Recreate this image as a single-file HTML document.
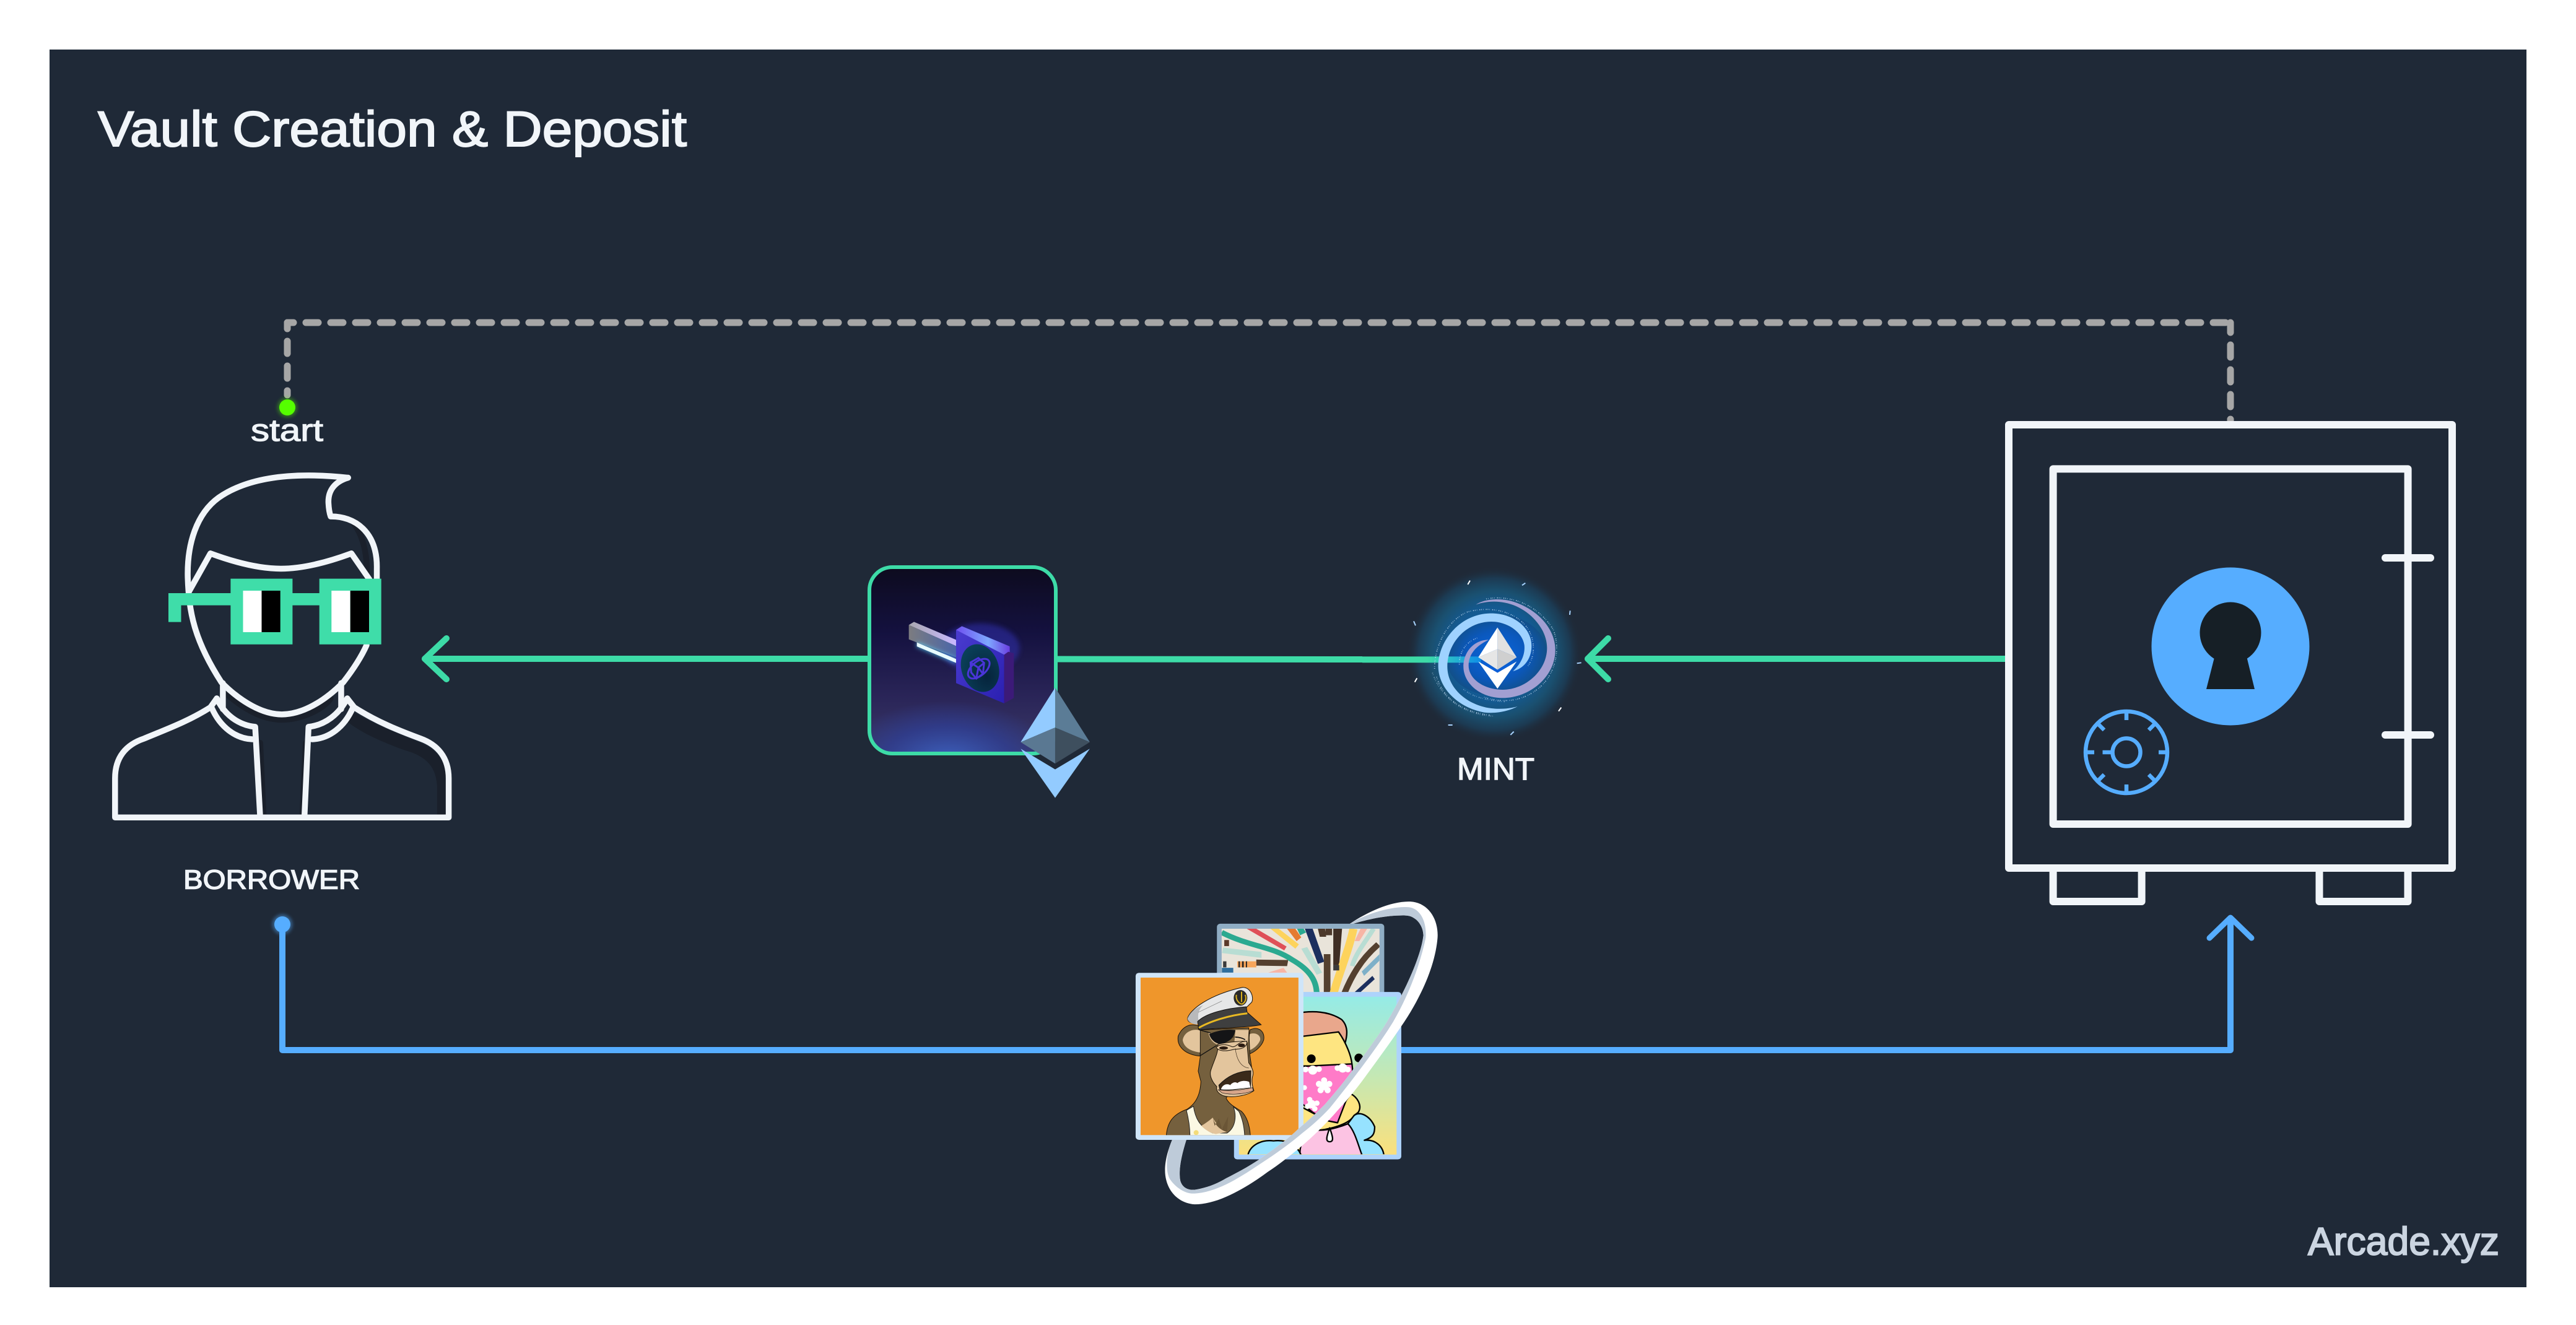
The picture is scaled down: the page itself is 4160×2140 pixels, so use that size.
<!DOCTYPE html>
<html><head><meta charset="utf-8"><style>
html,body{margin:0;padding:0;background:#fff}
svg{display:block}
text{font-family:"Liberation Sans",sans-serif;fill:#F1F5F9}
.p{fill:none;stroke:#F1F5F9;stroke-width:9.5;stroke-linejoin:round;stroke-linecap:round;vector-effect:non-scaling-stroke}
.s{fill:none;stroke:#F1F5F9;stroke-width:12;stroke-linejoin:round;stroke-linecap:round}
</style></head><body>
<svg width="4160" height="2140" viewBox="0 0 4160 2140" xmlns="http://www.w3.org/2000/svg">
<defs>
<linearGradient id="kb" x1="0" y1="0" x2="0" y2="1"><stop offset="0" stop-color="#0d0b1e"/><stop offset=".35" stop-color="#14113f"/><stop offset=".7" stop-color="#2a2558"/><stop offset="1" stop-color="#3b3a68"/></linearGradient>
<radialGradient id="kg" cx=".5" cy=".5" r=".5"><stop offset="0" stop-color="#3f68c8" stop-opacity=".95"/><stop offset=".6" stop-color="#2e3f98" stop-opacity=".7"/><stop offset="1" stop-color="#2e3f98" stop-opacity="0"/></radialGradient>
<radialGradient id="mg" cx=".5" cy=".5" r=".5"><stop offset="0" stop-color="#0c63b8"/><stop offset=".55" stop-color="#14598f"/><stop offset=".72" stop-color="#1a5070"/><stop offset=".87" stop-color="#1c3a52"/><stop offset="1" stop-color="#1F2937" stop-opacity="0"/></radialGradient>
<radialGradient id="md" cx=".5" cy=".5" r=".5"><stop offset="0" stop-color="#0a66e0"/><stop offset=".6" stop-color="#0b58bc"/><stop offset="1" stop-color="#125089"/></radialGradient>
<linearGradient id="ml" x1="0" y1="0" x2="1" y2="0"><stop offset="0" stop-color="#3DDBA7"/><stop offset=".55" stop-color="#3DDBA7"/><stop offset=".72" stop-color="#2bbfc8"/><stop offset="1" stop-color="#0f8de8"/></linearGradient>
<linearGradient id="rc" x1="0" y1="0" x2="0" y2="1"><stop offset="0" stop-color="#95EBE6"/><stop offset=".5" stop-color="#C4E8B4"/><stop offset="1" stop-color="#FBE07C"/></linearGradient>
<linearGradient id="kf" x1="0" y1="0" x2="1" y2="1"><stop offset="0" stop-color="#4a3cd0"/><stop offset="1" stop-color="#2a1fb0"/></linearGradient>
<linearGradient id="kt" x1="0" y1="0" x2="1" y2="0"><stop offset="0" stop-color="#6f50f0"/><stop offset=".6" stop-color="#7ea8ff"/><stop offset="1" stop-color="#6a3ee0"/></linearGradient>
<linearGradient id="kbar" x1="0" y1="0" x2="1" y2="0"><stop offset="0" stop-color="#7c7c80"/><stop offset="1" stop-color="#4a66a8"/></linearGradient>
<linearGradient id="kbart" x1="0" y1="0" x2="1" y2="0"><stop offset="0" stop-color="#a9a8b0"/><stop offset="1" stop-color="#c8b8ff"/></linearGradient>
<radialGradient id="kc" cx=".6" cy=".7" r=".7"><stop offset="0" stop-color="#06233c"/><stop offset="1" stop-color="#0a4058"/></radialGradient>
<filter id="b12" x="-80%" y="-200%" width="260%" height="500%"><feGaussianBlur stdDeviation="12"/></filter>
<filter id="b3" x="-50%" y="-50%" width="200%" height="200%"><feGaussianBlur stdDeviation="3"/></filter>
<clipPath id="kclip"><rect x="1404" y="916" width="301" height="301" rx="37"/></clipPath>
<clipPath id="c1"><rect x="504" y="228" width="666" height="300"/></clipPath>
<clipPath id="c2"><rect x="62" y="-200" width="765" height="843"/></clipPath>
<clipPath id="c3"><rect x="-200" y="57" width="900" height="763"/></clipPath>
</defs>

<rect x="80" y="80" width="4000" height="1999" fill="#1F2937"/>

<text x="158" y="236" font-size="81" textLength="951" lengthAdjust="spacingAndGlyphs" stroke="#F1F5F9" stroke-width="2">Vault Creation &amp; Deposit</text>

<!-- dashed -->
<g fill="none" stroke="#A6A6A6" stroke-width="11" stroke-linecap="round" stroke-dasharray="20 20">
<path stroke-dashoffset="10" d="M464,521 V638"/>
<path stroke-dashoffset="10" d="M464,521 H3602"/>
<path stroke-dashoffset="4" d="M3602,521 V684"/>
</g>
<circle cx="464" cy="658" r="16" fill="#55FF00" opacity=".35" filter="url(#b3)"/>
<circle cx="464" cy="658" r="13" fill="#55FF00"/>
<text x="405" y="712" font-size="50" textLength="117" lengthAdjust="spacingAndGlyphs" stroke="#F1F5F9" stroke-width="1.2">start</text>

<!-- green connectors -->
<g fill="none" stroke="#3DDBA7" stroke-width="10" stroke-linecap="round" stroke-linejoin="round">
<path d="M1402,1064 H686"/>
<path d="M721,1031 L686,1064 L721,1097"/>
<path d="M3240,1064 H2564"/>
<path d="M2597,1031 L2564,1064 L2597,1097"/>
</g>
<line x1="1706" y1="1064.5" x2="2200" y2="1065" stroke="#3DDBA7" stroke-width="10"/>

<!-- person -->
<g transform="translate(130,620) scale(.4464,.574)">
<g fill="#1a202b">
<path d="M965,950 L990,925 C1070,960 1150,985 1230,1010 C1290,1030 1322,1060 1322,1110 V1212 H1290 V1130 C1285,1070 1240,1045 1170,1030 C1100,1010 1020,985 965,950 Z"/>
</g>
<path class="p" style="stroke:#1a202b" d="M525,870 C590,915 660,945 728,945 C800,945 880,915 905,885 M990,395 C1025,430 1040,490 1035,548 M650,1010 L662,1210 M815,1010 L803,1210"/>
<path class="p" d="M968,264 C800,250 620,255 500,320 C420,365 385,450 388,545 C392,640 410,720 510,840 C580,895 660,930 728,930 C800,930 880,895 950,840 C985,805 1015,770 1035,735"/>
<path class="p" d="M968,264 C920,275 895,300 897,335 C898,350 900,362 905,373 C990,372 1075,415 1072,520 L1072,548"/>
<path class="p" d="M392,585 L470,477 C550,500 640,520 725,520 C810,520 900,500 980,477 L1045,550"/>
<path class="p" d="M515,842 V915 M943,842 V915"/>
<path class="p" d="M493,885 C520,930 570,960 632,965 L650,1220"/>
<path class="p" d="M965,885 C935,930 885,960 825,965 L810,1220"/>
<path class="p" d="M475,912 C505,965 560,998 622,1000"/>
<path class="p" d="M985,912 C955,965 900,998 838,1000"/>
<path class="p" d="M493,885 L470,910 C390,950 300,975 230,998 C165,1015 125,1050 125,1110 V1220 H1332 V1110 C1332,1050 1290,1015 1230,998 C1150,975 1070,950 990,910 L965,885"/>
</g>
<!-- glasses -->
<g>
<path fill="#3FDDA9" d="M372.4,934.6 H472.4 V958 H515.7 V934.6 H615.7 V1040.8 H515.7 V977.6 H472.4 V1040.8 H372.4 V977.6 H292.5 V1004.6 H272 V958 H372.4 Z"/>
<rect x="392.5" y="954" width="30" height="67" fill="#fff"/><rect x="422.5" y="954" width="30.2" height="67" fill="#000"/>
<rect x="535.3" y="954" width="30.4" height="67" fill="#fff"/><rect x="565.7" y="954" width="30.3" height="67" fill="#000"/>
</g>
<text x="296" y="1435.5" font-size="44" textLength="285" lengthAdjust="spacingAndGlyphs" stroke="#F1F5F9" stroke-width="1.4">BORROWER</text>

<!-- key box -->
<g>
<g clip-path="url(#kclip)">
<rect x="1404" y="916" width="301" height="301" fill="url(#kb)"/>
<ellipse cx="1530" cy="1232" rx="175" ry="100" fill="url(#kg)"/>
</g>
<rect x="1404" y="916" width="301" height="301" rx="37" fill="none" stroke="#3DDBA7" stroke-width="6"/>
<g transform="translate(1350,880) scale(.3333)">
<ellipse cx="700" cy="500" rx="190" ry="120" fill="#3a3ad8" opacity=".4" filter="url(#b12)"/>
<polygon points="353,388 378,373 582,460 582,490" fill="url(#kbart)"/>
<polygon points="353,388 582,490 582,545 353,458" fill="url(#kbar)"/>
<polygon points="392,473 582,553 582,572 392,492" fill="#5fd8ff" filter="url(#b12)"/>
<polygon points="392,473 582,553 582,572 392,492" fill="#e8fbff"/>
<polygon points="582,412 815,530 815,768 582,670" fill="url(#kf)"/>
<polygon points="582,412 610,394 842,492 842,520 815,532" fill="url(#kt)"/>
<polygon points="815,532 835,518 862,525 862,742 815,768" fill="#3c1a78"/>
<ellipse cx="698" cy="597" rx="90" ry="118" transform="rotate(-18 698 597)" fill="url(#kc)"/>
<g fill="none" stroke="#4a35d8" stroke-width="9"><ellipse cx="692" cy="600" rx="62" ry="34" transform="rotate(-40 692 600)"/><path d="M652,570 L690,548 L718,572 L712,625 L680,648 L655,618 Z M652,570 L690,595 L712,625 M690,595 L680,648 M690,595 L718,572"/></g>
</g>
<!-- eth -->
<g transform="translate(1350,880) scale(.3333)">
<polygon points="1062,692 895,956 1062,885" fill="#93CBFF"/>
<polygon points="1062,692 1230,956 1062,885" fill="#5B7C96"/>
<polygon points="895,956 1062,885 1062,1060" fill="#5A7892"/>
<polygon points="1230,956 1062,885 1062,1060" fill="#3E4F5E"/>
<polygon points="895,988 1062,1088 1230,988 1062,1226" fill="#93CBFF"/>
</g>
</g>

<!-- mint -->
<g transform="translate(2200,880) scale(.3333)">
<circle cx="640" cy="530" r="425" fill="url(#mg)"/>
<ellipse cx="650" cy="535" rx="245" ry="195" transform="rotate(-5 650 535)" fill="url(#md)"/>
<rect x="0" y="541" width="575" height="30" fill="url(#ml)"/>
<g fill="none" stroke="#d3e8ff" stroke-width="5" stroke-dasharray="3 6 2 11 4 5">
<path d="M350,600 C350,480 420,360 510,325 C600,300 720,310 790,390 C840,450 840,540 800,590" opacity=".75"/>
<path d="M360,640 C390,740 480,810 620,825" opacity=".75"/>
<path d="M600,262 C720,240 850,290 925,410 C960,500 940,620 860,690 C780,760 680,770 580,735" opacity=".75"/>
<path d="M470,580 C470,520 500,470 560,450" opacity=".7"/>
<path d="M340,620 C380,740 490,825 640,830 M490,700 C540,740 610,755 690,760" opacity=".55"/>
</g>
<path fill="#9FD2FF" d="M752,783 C700,810 640,818 590,812 C470,790 370,700 368,590 C366,470 470,335 620,332 C730,330 820,400 820,490 C820,555 780,600 730,612 C770,575 790,530 785,485 C775,420 700,372 625,372 C510,372 412,470 412,590 C412,690 500,770 610,790 C660,798 710,795 752,783 Z"/>
<path fill="#A29FD2" d="M550,290 C590,262 660,258 720,272 C840,305 935,400 935,510 C935,640 810,742 680,742 C570,742 490,670 490,590 C490,520 540,460 612,460 C550,490 515,530 515,585 C515,650 590,702 680,702 C790,702 895,610 895,500 C895,400 800,300 690,280 C640,270 590,275 550,290 Z"/>
<polygon points="562,560 655,605 748,560 655,620" fill="#0c5fd8"/>
<polygon points="655,400 562,545 655,505" fill="#fff"/>
<polygon points="655,400 748,545 655,505" fill="#e1e1e1"/>
<polygon points="562,545 655,505 655,605" fill="#e6e6e6"/>
<polygon points="748,545 655,505 655,605" fill="#cfcfcf"/>
<polygon points="562,565 655,620 748,565 655,697" fill="#fff"/>
<g stroke-width="6" stroke-linecap="butt">
<line x1="522" y1="173" x2="511" y2="192" stroke="#fff"/>
<line x1="790" y1="185" x2="774" y2="196" stroke="#a8d4ff"/>
<line x1="1007" y1="319" x2="1005" y2="339" stroke="#a8d4ff"/>
<line x1="249" y1="370" x2="258" y2="391" stroke="#a8d4ff"/>
<line x1="265" y1="646" x2="254" y2="665" stroke="#fff"/>
<line x1="1040" y1="574" x2="1061" y2="571" stroke="#a8d4ff"/>
<line x1="964" y1="788" x2="951" y2="806" stroke="#fff"/>
<line x1="416" y1="873" x2="437" y2="873" stroke="#a8d4ff"/>
<line x1="734" y1="905" x2="718" y2="921" stroke="#a8d4ff"/>
</g>
</g>
<text x="2353" y="1259" font-size="50" textLength="125" lengthAdjust="spacingAndGlyphs" stroke="#F1F5F9" stroke-width="1.4">MINT</text>

<!-- safe -->
<g>
<rect x="3244" y="686" width="716" height="716" class="s"/>
<rect x="3315.6" y="757.4" width="573" height="573.6" class="s"/>
<path class="s" d="M3315.6,1408 V1456 H3458.6 V1408 M3745.5,1408 V1456 H3888.5 V1408"/>
<path class="s" d="M3852,901 H3925 M3852,1187 H3925"/>
<circle cx="3602" cy="1044" r="127.5" fill="#56ADFF"/>
<circle cx="3602" cy="1022" r="49.5" fill="#161F26"/>
<polygon points="3577,1058 3563,1113 3641,1113 3627.5,1058" fill="#161F26"/>
<g fill="none" stroke="#56ADFF" stroke-width="6.5">
<circle cx="3434" cy="1215" r="66"/>
<circle cx="3434" cy="1215" r="22.5"/>
<path d="M3434,1149 V1163 M3434,1281 V1267 M3368,1215 H3382 M3500,1215 H3486 M3395.5,1215 H3412 M3387,1168 L3398,1179 M3481,1168 L3470,1179 M3387,1262 L3398,1251 M3481,1262 L3470,1251"/>
</g>
</g>

<!-- blue connector -->
<circle cx="456" cy="1493" r="16" fill="#56ADFF" opacity=".45" filter="url(#b3)"/>
<g fill="none" stroke="#56ADFF" stroke-width="10" stroke-linejoin="round">
<path d="M456,1493 V1696 H3602 V1482"/>
<path stroke-linecap="round" stroke-width="9" d="M3568,1515 L3602,1482 L3636,1515"/>
</g>
<circle cx="456" cy="1493" r="13" fill="#56ADFF"/>

<!-- NFTs: top card -->
<g transform="translate(1780,1420) scale(.3827,.3508)">
<rect x="484" y="205" width="706" height="340" rx="14" fill="#8FADC4"/>
<rect x="504" y="228" width="666" height="300" fill="#E9E4DA"/>
<g clip-path="url(#c1)">
<polygon points="510,315 672,335 672,362 505,340" fill="#B8DDD3"/>
<polygon points="610,228 650,228 778,310 768,328" fill="#DF5058"/>
<polygon points="710,228 745,228 830,300 815,320" fill="#FDD35C"/>
<polygon points="780,228 815,228 840,268 820,285" fill="#E57A31"/>
<polygon points="822,228 850,228 860,245 835,258" fill="#2BA990"/>
<polygon points="855,228 888,228 937,380 910,390" fill="#1C2F5E"/>
<polygon points="840,320 865,312 928,430 905,440" fill="#B8DDD3"/>
<polygon points="910,228 940,228 945,265 918,265" fill="#4D3A2C"/>
<polygon points="942,228 970,228 970,258 942,258" fill="#4D3A2C"/>
<polygon points="975,228 1012,228 1000,395 975,395" fill="#3f2e24"/>
<polygon points="1090,228 1118,228 1085,285 1065,285" fill="#F7B5A5"/>
<polygon points="1170,345 1170,375 1105,445 1095,425" fill="#7EB0C8"/>
<polygon points="1140,445 1150,460 1080,530 1065,520" fill="#1C2F5E"/>
<polygon points="650,370 785,372 780,400 650,398" fill="#54402F"/>
<rect x="570" y="378" width="80" height="28" fill="#F7A55A"/>
<g fill="#222"><rect x="575" y="378" width="6" height="28"/><rect x="590" y="378" width="7" height="28"/><rect x="606" y="378" width="5" height="28"/></g>
<rect x="510" y="378" width="14" height="28" fill="#3a3a3a"/>
<rect x="505" y="408" width="48" height="22" fill="#2E6E9E"/>
<polygon points="700,430 765,408 780,430" fill="#F7B5A5"/>
<rect x="515" y="280" width="20" height="28" fill="#5a3a2a"/>
<rect x="935" y="345" width="28" height="190" fill="#54402F"/>
<path d="M1060,228 C1040,330 1000,430 975,530" stroke="#FDD35C" stroke-width="34" fill="none"/>
<path d="M1165,300 C1090,370 1050,450 1020,530" stroke="#54402F" stroke-width="26" fill="none"/>
<path d="M1145,228 C1110,290 1070,340 1055,400" stroke="#B8DDD3" stroke-width="20" fill="none"/>
<path d="M504,245 C620,310 720,310 800,370 C880,420 905,470 905,530" stroke="#2BA990" stroke-width="24" fill="none"/>
<rect x="975" y="395" width="25" height="25" fill="#3a3a3a"/>
</g>
<rect x="556" y="519" width="706" height="771" rx="14" fill="#ADD3FB"/>
<rect x="577" y="541" width="665" height="727" fill="url(#rc)"/>
</g>
<!-- right card art -->
<g transform="translate(1980,1650) scale(.3333)">
<g clip-path="url(#c2)" stroke="#000" stroke-width="7" stroke-linejoin="round">
<path d="M340,-40 C420,-55 500,-50 560,-10 C590,20 590,60 575,110 L525,60 L340,75 Z" fill="#E9A78C"/>
<path d="M340,75 L545,50 C580,100 610,170 610,215 L340,215 Z" fill="#FEE581"/>
<path d="M605,350 C640,370 660,410 640,440 L620,455 C600,490 540,510 490,520 C450,530 430,525 420,520 L340,500 L340,400 L490,480 L540,490 C530,440 570,400 605,350 Z" fill="#FEE581"/>
<path d="M340,218 L610,205 C620,280 610,330 590,360 L540,490 L490,480 L420,440 C395,420 375,400 340,380 Z" fill="#FF7BC8"/>
<path d="M620,455 C650,430 700,460 720,510 C720,540 715,560 670,575 C720,570 760,600 765,650 L655,650 C640,600 620,530 590,495 Z" fill="#96E2FF"/>
<path d="M430,525 C480,530 540,515 590,495 C625,530 640,600 660,650 L360,650 C350,600 380,560 430,525 Z" fill="#FCC3E3"/>
<path d="M105,650 C115,600 170,570 230,578 C300,570 345,600 365,650 Z" fill="#96E2FF"/>
<path d="M502,515 C490,550 478,582 502,582 C526,582 514,550 502,515 Z" fill="#fff"/>
</g>
<g clip-path="url(#c2)">
<circle cx="413" cy="180" r="21"/><circle cx="643" cy="176" r="21"/>
<g fill="#fff">
<circle cx="475" cy="310" r="22"/><circle cx="475" cy="285" r="15"/><circle cx="500" cy="302" r="15"/><circle cx="492" cy="332" r="15"/><circle cx="458" cy="332" r="15"/><circle cx="450" cy="302" r="15"/>
<circle cx="415" cy="400" r="20"/><circle cx="405" cy="378" r="13"/><circle cx="440" cy="395" r="13"/><circle cx="430" cy="422" r="13"/><circle cx="395" cy="410" r="13"/>
<circle cx="420" cy="235" r="22"/><circle cx="385" cy="232" r="14"/><circle cx="450" cy="230" r="14"/>
<circle cx="565" cy="225" r="22"/><circle cx="540" cy="225" r="14"/><circle cx="590" cy="232" r="14"/>
<circle cx="380" cy="320" r="12"/>
</g>
</g>
</g>
<!-- left card -->
<g transform="translate(1780,1420) scale(.3827,.3508)">
<rect x="141" y="431" width="708" height="769" rx="14" fill="#CFE5F9"/>
<rect x="162" y="453" width="666" height="725" fill="#EF962B"/>
</g>
<!-- ape -->
<g transform="translate(1880,1560) scale(.3333)">
<g clip-path="url(#c3)">
<path d="M165,290 C120,275 85,300 68,340 C60,390 100,430 175,437 Z" fill="#75603E" stroke="#1a1208" stroke-width="3"/>
<path d="M165,310 C130,305 95,325 90,360 C95,395 130,415 178,420 L175,310 Z" fill="#E3C59D"/>
<path d="M415,310 C460,290 490,320 482,360 C470,395 435,420 405,430 Z" fill="#75603E" stroke="#1a1208" stroke-width="3"/>
<path d="M415,330 C440,320 470,335 465,360 C455,385 430,405 405,412 Z" fill="#E3C59D"/>
<path d="M10,825 C15,760 40,720 110,695 C150,670 175,630 178,560 L165,510 L175,440 L175,310 L410,300 L415,430 L425,500 L300,640 C310,665 335,680 375,705 C405,735 415,780 418,825 Z" fill="#75603E" stroke="#1a1208" stroke-width="3"/>
<path d="M345,310 L410,310 L405,370 L340,375 Z" fill="#E3C59D"/>
<path d="M215,320 C215,350 240,380 265,382 L240,340 Z" fill="#E3C59D"/>
<path d="M260,380 C300,370 360,365 400,365 L410,470 C425,490 435,510 430,530 C420,560 430,590 435,605 C400,630 330,640 290,630 C260,620 250,600 255,585 C230,560 220,530 225,510 C240,460 265,420 260,380 Z" fill="#E3C59D" stroke="#1a1208" stroke-width="3"/>
<path d="M252,395 C270,378 300,378 330,392 C350,395 360,365 400,365 C405,385 385,400 365,402 L335,405 C300,415 265,415 252,395 Z" fill="#E3C59D" stroke="#1a1208" stroke-width="3"/>
<ellipse cx="288" cy="398" rx="21" ry="8" fill="#2a1a10"/><ellipse cx="375" cy="385" rx="17" ry="9" fill="#2a1a10"/>
<path d="M345,400 C350,450 370,490 410,495 M265,345 L345,345" fill="none" stroke="#3a2a1a" stroke-width="2"/>
<path d="M265,578 C300,540 350,510 420,508 L418,590 C370,595 310,605 270,600 Z" fill="#3a2a1a" stroke="#111" stroke-width="3"/>
<path d="M275,598 C285,570 310,570 320,578 C330,565 345,560 355,568 C370,555 395,555 412,562 L418,590 C380,592 320,603 275,598 Z" fill="#fff"/>
<path d="M262,600 C320,610 380,600 428,590 L432,605 C380,625 310,625 280,615 Z" fill="#D9A68A" stroke="#111" stroke-width="2"/>
<path d="M218,330 C260,312 310,305 345,312 C340,345 320,370 270,378 C245,375 225,355 218,330 Z" fill="#141416"/>
<path d="M345,345 C365,345 385,352 392,358" fill="none" stroke="#111" stroke-width="5"/>
<path d="M170,310 L225,325 M175,435 L255,385" fill="none" stroke="#111" stroke-width="4"/>
<path d="M108,700 L142,680 C150,735 170,780 235,810 L305,810 C350,780 350,720 335,682 L362,705 C380,740 388,780 390,825 L125,825 C125,780 118,740 108,700 Z" fill="#FBF8E3" stroke="#222" stroke-width="3"/>
<path d="M180,775 C205,760 225,745 235,735 C250,765 280,790 305,805 L250,815 C220,810 195,790 180,775 Z" fill="#E3C59D"/>
<path d="M235,735 L245,775 L265,740 L280,790 L310,730 L305,805 C270,795 245,770 235,735 Z" fill="#6a5536"/>
<circle cx="155" cy="808" r="12" fill="#F3DC7A"/>
<path d="M113,255 C125,210 220,140 380,104 C420,105 435,150 425,175 L400,200 L165,265 C140,285 115,275 113,255 Z" fill="#E6E7E8" stroke="#111" stroke-width="3"/>
<path d="M113,255 C130,220 150,205 190,190 C160,215 165,245 165,265 L160,285 C130,280 115,270 113,255 Z" fill="#B8B9BB"/>
<path d="M162,270 C200,230 300,205 398,198 L402,225 L470,285 C400,300 260,300 170,310 Z" fill="#3F3F3F" stroke="#111" stroke-width="3"/>
<path d="M168,300 C220,270 310,240 403,230" fill="none" stroke="#E8B923" stroke-width="9"/>
<ellipse cx="370" cy="155" rx="33" ry="38" fill="#2a2a2a"/>
<path d="M350,140 C345,165 365,185 378,185 C395,175 400,155 392,140 M375,125 V175" fill="none" stroke="#D9B01E" stroke-width="6"/>
<path d="M165,225 L280,170" fill="none" stroke="#777" stroke-width="2"/>
</g>
</g>
<!-- ring -->
<g transform="translate(1780,1420) scale(.3827,.3508)">
<path fill="#FFFFFF" d="M1045,205 C1120,150 1220,100 1300,103 C1380,108 1420,190 1415,270 C1405,400 1345,540 1275,656 C1230,730 1180,805 1131,878 C1090,940 1045,1005 1001,1055 C950,1120 890,1185 836,1234 C790,1275 745,1315 698,1348 C640,1395 580,1435 523,1462 C475,1485 430,1497 390,1497 C310,1490 265,1420 265,1340 C265,1290 280,1240 295,1200 L355,1200 C335,1270 320,1340 330,1390 C340,1425 370,1435 400,1428 C440,1420 480,1405 523,1377 C580,1345 640,1310 698,1263 C745,1225 790,1190 828,1149 C870,1110 905,1075 941,1035 C980,985 1020,935 1053,884 C1105,810 1160,730 1202,656 C1270,530 1345,360 1355,260 C1355,210 1320,167 1280,167 C1200,165 1120,185 1060,205 Z"/>
<path fill="#BECBD9" d="M1045,205 C1110,160 1230,120 1300,130 C1345,140 1370,200 1365,270 C1340,400 1290,540 1228,656 C1170,760 1060,920 959,1055 C925,1095 885,1135 844,1169 C800,1210 750,1250 698,1288 C640,1330 580,1375 523,1405 C475,1430 430,1445 390,1447 C350,1450 310,1420 285,1380 C265,1340 270,1260 295,1200 L355,1200 C335,1270 320,1340 330,1390 C340,1425 370,1435 400,1428 C440,1420 480,1405 523,1377 C580,1345 640,1310 698,1263 C745,1225 790,1190 828,1149 C870,1110 905,1075 941,1035 C980,985 1020,935 1053,884 C1105,810 1160,730 1202,656 C1270,530 1345,360 1355,260 C1355,210 1320,167 1280,167 C1200,165 1120,185 1060,205 Z"/>
</g>

<text x="3727" y="2026.5" font-size="63" textLength="309" lengthAdjust="spacingAndGlyphs" style="fill:#CBD5E1" stroke="#CBD5E1" stroke-width="2">Arcade.xyz</text>
</svg>
</body></html>
